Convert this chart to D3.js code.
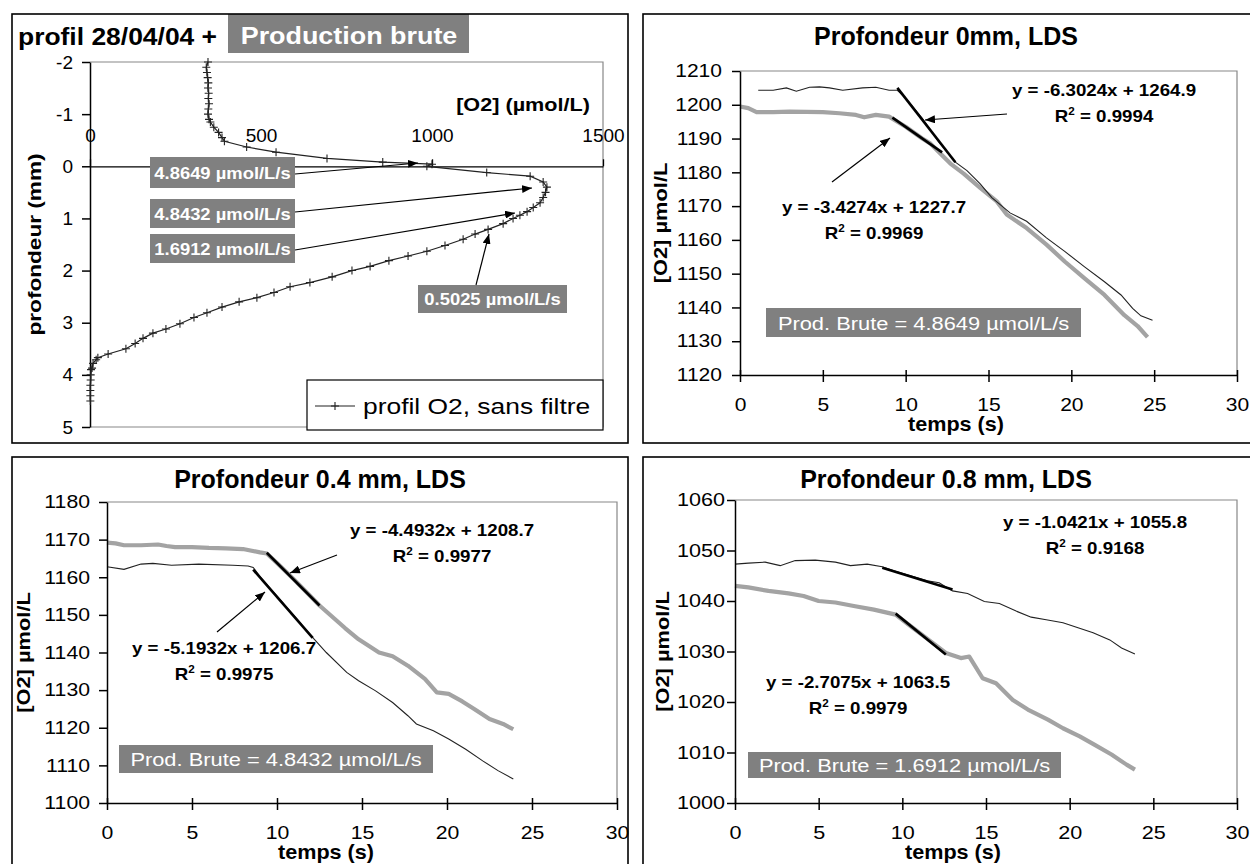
<!DOCTYPE html>
<html>
<head>
<meta charset="utf-8">
<script src="https://cdn.jsdelivr.net/npm/d3@7"></script>
<style>
  body { margin: 0; background: #fff; }
  svg { display: block; }
</style>
</head>
<body>
<div id="viz"></div>
<script>
// ---------- data ----------

// O2 profile (depth in mm, O2 in umol/L)
var profDepth = [-2.0,-1.9,-1.8,-1.7,-1.6,-1.5,-1.4,-1.3,-1.2,-1.1,-1.0,-0.9,-0.85,-0.75,-0.65,-0.55,-0.48,
  -0.37,-0.27,-0.15,-0.08,-0.04,0.0,0.12,0.19,0.3,0.4,0.5,0.6,0.7,0.79,0.87,0.94,1.0,
  1.1,1.21,1.3,1.4,1.52,1.63,1.72,1.81,1.92,2.0,2.12,2.23,2.31,2.42,2.52,2.6,2.7,2.81,2.9,3.02,
  3.12,3.2,3.3,3.4,3.5,3.6,3.67,3.71,3.78,3.87,3.9,4.0,4.1,4.2,4.3,4.4,4.5];
var profO2 = [345,340,342,344,346,345,347,346,348,346,345,348,352,362,376,386,393,
  458,544,693,856,1000,985,1160,1287,1325,1336,1332,1325,1316,1296,1278,1257,1237,
  1208,1164,1126,1091,1038,985,930,874,819,766,708,643,585,538,488,436,386,342,304,263,
  222,184,155,132,105,53,23,18,9,6,3,2,2,1,1,1,1];
var profTicksY = [-2,-1,0,1,2,3,4,5];
var profTicksX = [0,500,1000,1500];
var profRates = ["4.8649 µmol/L/s","4.8432 µmol/L/s","1.6912 µmol/L/s","0.5025 µmol/L/s"];

// time axis ticks (s)
var timeTicks = [0,5,10,15,20,25,30];

// depth 0 mm
var t0Black = [1.1,2.0,2.8,3.4,4.2,4.8,5.4,6.2,7.4,8.2,9.0,9.5,10.0,11.0,11.5,12.0,13.0,13.7,14.5,15.2,16.3,17.3,18.5,19.6,20.8,22.0,23.0,23.7,24.2,24.9];
var o0Black = [1204.3,1204.3,1205.0,1204.0,1205.2,1205.3,1205.0,1204.3,1205.0,1205.2,1204.3,1204.3,1202.0,1196.0,1192.5,1189.0,1183.0,1180.5,1176.6,1172.5,1168.0,1165.5,1160.6,1156.6,1152.0,1147.6,1143.7,1139.7,1137.5,1136.2];
var t0Gray = [0,0.5,1,2,3,4,5,6,7,7.5,8.2,9,9.5,10,11,11.5,12,12.7,13.5,14.5,15.5,16.1,17.3,18.5,19.6,20.8,22,23.2,24,24.6];
var o0Gray = [1199.5,1199,1197.8,1197.8,1198,1197.9,1197.8,1197.5,1197,1196.3,1197,1196.5,1195,1193.5,1190,1188.5,1186,1182.6,1179.6,1175.4,1171.4,1167.5,1163.5,1158.6,1153.6,1148.6,1143.7,1137.7,1134.5,1131.2];
var trend0Black = [[9.5,1205.0],[13.0,1183.0]];
var trend0Gray = [[9.2,1196.2],[12.2,1185.9]];
var ticks0 = [1120,1130,1140,1150,1160,1170,1180,1190,1200,1210];

// depth 0.4 mm
var t4Black = [0,1,2,2.7,3.8,5.4,7.4,8.3,8.6,9,10,11,12,12.9,14.1,14.8,15.8,16.8,17.7,18.2,19.2,20.1,21.1,22.1,23,23.9];
var o4Black = [1162.8,1162.1,1163.5,1163.7,1163.2,1163.5,1163.2,1163,1162.6,1160.2,1155,1149.8,1144.5,1140,1134.7,1132.5,1129.8,1126.7,1123.2,1121,1119.2,1117,1114.3,1111.2,1108.6,1106.4];
var t4Gray = [0,0.5,1,2,3,3.5,4,5,6,7,8,9,9.4,10,11,12,12.5,13,14,14.8,16,16.8,17.7,18.7,19.4,20.1,20.9,21.6,22.5,23.3,23.9];
var o4Gray = [1169.2,1169,1168.5,1168.5,1168.7,1168.3,1168,1168,1167.8,1167.7,1167.5,1166.6,1166.3,1163.8,1159.4,1154.8,1152.5,1150.5,1146.5,1143.5,1140,1139,1136.5,1133,1129.4,1129,1127,1125,1122.3,1121,1119.6];
var trend4Black = [[8.6,1162.0],[12.1,1143.9]];
var trend4Gray = [[9.4,1166.5],[12.5,1152.5]];
var ticks4 = [1100,1110,1120,1130,1140,1150,1160,1170,1180];

// depth 0.8 mm
var t8Black = [0,0.8,1.8,2.7,3.6,4.8,6,6.9,7.9,8.8,9.5,10.5,11.5,12.2,13,13.9,14.9,15.8,16.8,17.7,18.6,19.6,20.5,21.4,22.4,23.1,23.9];
var o8Black = [1047.3,1047.5,1047.7,1047,1048,1048.1,1047.7,1047,1047.3,1046.8,1046,1045,1044,1043.6,1042,1041.5,1039.9,1039.5,1038,1036.8,1036.3,1035.7,1034.7,1033.7,1032.3,1030.7,1029.5];
var t8Gray = [0,0.8,2,3.2,4.1,5,6,7.1,8.3,9.6,10.5,11.5,12.6,13.5,14,14.8,15.6,16.6,17.5,18.7,19.6,20.6,21.5,22.5,23.4,23.9];
var o8Gray = [1043,1042.7,1042,1041.5,1041,1040,1039.7,1039,1038.3,1037.3,1035,1032.5,1029.7,1028.7,1029,1024.7,1023.7,1020.4,1018.5,1016.5,1014.8,1013.2,1011.5,1009.6,1007.6,1006.6];
var trend8Black = [[8.8,1046.6],[13.0,1042.3]];
var trend8Gray = [[9.6,1037.5],[12.6,1029.4]];
var ticks8 = [1000,1010,1020,1030,1040,1050,1060];

// ---------- drawing ----------
var FONT = "'Liberation Sans', Arial, Helvetica, sans-serif";
var plain = function(d) { return String(d); };

var svg = d3.select("#viz").append("svg")
    .attr("width", 1250)
    .attr("height", 864)
    .attr("font-family", FONT);

svg.append("defs").append("marker")
    .attr("id", "arr")
    .attr("viewBox", "0 0 10 8")
    .attr("refX", 10).attr("refY", 4)
    .attr("markerWidth", 10).attr("markerHeight", 8)
    .attr("markerUnits", "userSpaceOnUse")
    .attr("orient", "auto")
  .append("path").attr("d", "M0,0L10,4L0,8Z").attr("fill", "#000");

// text helper, sx stretches the glyphs along the text direction
function txt(g, x, y, s, o) {
  o = o || {};
  var tr = "translate(" + x + "," + y + ")" + (o.rot ? " rotate(" + o.rot + ")" : "") + " scale(" + (o.sx || 1) + ",1)";
  return g.append("text")
    .attr("transform", tr)
    .attr("text-anchor", o.anchor || "middle")
    .attr("font-size", o.size || 18)
    .attr("font-weight", o.bold ? "bold" : "normal")
    .attr("fill", o.fill || "#000")
    .text(s);
}

function frame(x, y, w, h) {
  svg.append("rect").attr("x", x).attr("y", y).attr("width", w).attr("height", h)
    .attr("fill", "none").attr("stroke", "#000").attr("stroke-width", 1.6);
}

function arrow(g, x1, y1, x2, y2) {
  g.append("line").attr("x1", x1).attr("y1", y1).attr("x2", x2).attr("y2", y2)
    .attr("stroke", "#000").attr("stroke-width", 1.2).attr("marker-end", "url(#arr)");
}

function grayBox(g, x, y, w, h) {
  g.append("rect").attr("x", x).attr("y", y).attr("width", w).attr("height", h).attr("fill", "#808080");
}

// equation + R2 label
function eqLabel(g, x, y, eq, r2, sx) {
  txt(g, x, y, eq, {size: 16, bold: true, sx: sx});
  var t = txt(g, x, y + 26, "", {size: 16, bold: true, sx: sx});
  t.append("tspan").text("R");
  t.append("tspan").attr("dy", -7).attr("font-size", 10).text("2");
  t.append("tspan").attr("dy", 7).text(" = " + r2);
}

// ---- panel 1 : profile ----
(function() {
  var g = svg.append("g");
  frame(12, 14, 616, 429);

  var x = d3.scaleLinear().domain([0, 1500]).range([90, 603]);
  var y = d3.scaleLinear().domain([-2, 5]).range([62, 427]);

  g.append("path").attr("d", "M90,62H603V427H90")
    .attr("fill", "none").attr("stroke", "#888").attr("stroke-width", 1.2);

  // titles
  txt(g, 18, 45, "profil 28/04/04 +", {anchor: "start", size: 23, bold: true, sx: 1.15});
  grayBox(g, 228, 14, 241, 39);
  txt(g, 349, 44, "Production brute", {size: 23, bold: true, sx: 1.17, fill: "#fff"});

  // y axis
  var gy = g.append("g").attr("transform", "translate(90,0)")
    .call(d3.axisLeft(y).tickValues(profTicksY).tickFormat(plain).tickSize(8).tickSizeOuter(0).tickPadding(9));
  gy.attr("font-family", FONT);
  gy.selectAll("text").attr("font-size", 19).attr("fill", "#000");
  gy.selectAll("line, path").attr("stroke", "#000").attr("stroke-width", 1.5);

  // x axis at depth 0, labels above
  var gx = g.append("g").attr("transform", "translate(0," + y(0) + ")")
    .call(d3.axisTop(x).tickValues(profTicksX).tickFormat(plain).tickSize(7).tickSizeOuter(0).tickPadding(17));
  gx.attr("font-family", FONT);
  gx.selectAll("text").attr("font-size", 19).attr("fill", "#000");
  gx.selectAll("line, path").attr("stroke", "#000").attr("stroke-width", 1.3);

  txt(g, 590, 111, "[O2] (µmol/L)", {anchor: "end", size: 18.5, bold: true, sx: 1.17});
  txt(g, 41, (62 + 427) / 2, "profondeur (mm)", {rot: -90, size: 19, bold: true, sx: 1.19});

  // profile line + markers
  var pts = d3.zip(profO2, profDepth);
  var line = d3.line().x(function(d) { return x(d[0]); }).y(function(d) { return y(d[1]); });
  g.append("path").datum(pts).attr("d", line)
    .attr("fill", "none").attr("stroke", "#222").attr("stroke-width", 1.2);
  g.selectAll(".pm").data(pts).enter().append("path")
    .attr("class", "pm")
    .attr("transform", function(d) { return "translate(" + x(d[0]) + "," + y(d[1]) + ")"; })
    .attr("d", "M-4,0H4M0,-4V4")
    .attr("stroke", "#222").attr("stroke-width", 1.1);

  // rate labels
  var boxes = [[150, 157, 145, 31], [150, 199, 145, 29], [150, 234, 145, 29], [418, 285, 149, 28]];
  var arrows = [[295, 174, 418, 163], [295, 212, 532, 188], [295, 250, 515, 213], [476, 285, 489, 234]];
  boxes.forEach(function(b, i) {
    grayBox(g, b[0], b[1], b[2], b[3]);
    txt(g, b[0] + b[2] / 2, b[1] + b[3] / 2 + 6, profRates[i], {size: 16, bold: true, sx: 1.15, fill: "#fff"});
    arrow(g, arrows[i][0], arrows[i][1], arrows[i][2], arrows[i][3]);
  });

  // legend
  g.append("rect").attr("x", 307).attr("y", 380).attr("width", 296).attr("height", 50)
    .attr("fill", "#fff").attr("stroke", "#000").attr("stroke-width", 1.2);
  g.append("line").attr("x1", 315).attr("x2", 355).attr("y1", 406).attr("y2", 406)
    .attr("stroke", "#222").attr("stroke-width", 1.2);
  g.append("path").attr("transform", "translate(335,406)").attr("d", "M-4,0H4M0,-4V4")
    .attr("stroke", "#222").attr("stroke-width", 1.1);
  txt(g, 363, 414, "profil O2, sans filtre", {anchor: "start", size: 22, sx: 1.2});
})();

// ---- time panels ----
function timePanel(c) {
  var g = svg.append("g");
  frame(c.fx, c.fy, c.fw, c.fh);

  var x = d3.scaleLinear().domain([0, 30]).range([c.l, c.r]);
  var y = d3.scaleLinear().domain([c.yTicks[0], c.yTicks[c.yTicks.length - 1]]).range([c.b, c.t]);

  g.append("path").attr("d", "M" + c.l + "," + c.t + "H" + c.r + "V" + c.b)
    .attr("fill", "none").attr("stroke", "#888").attr("stroke-width", 1.2);

  txt(g, c.fx + (c.titleX || 303), c.fy + 31, c.title, {size: 25, bold: true});

  var line = d3.line().x(function(d) { return x(d[0]); }).y(function(d) { return y(d[1]); });

  g.append("path").datum(d3.zip(c.tGray, c.oGray)).attr("d", line)
    .attr("fill", "none").attr("stroke", "#a3a3a3").attr("stroke-width", 4.2)
    .attr("stroke-linejoin", "round");
  g.append("path").datum(d3.zip(c.tBlack, c.oBlack)).attr("d", line)
    .attr("fill", "none").attr("stroke", "#222").attr("stroke-width", 1.1);
  [c.trGray, c.trBlack].forEach(function(tr) {
    g.append("path").datum(tr).attr("d", line)
      .attr("fill", "none").attr("stroke", "#000").attr("stroke-width", 2.6);
  });

  // axes
  var gy = g.append("g").attr("transform", "translate(" + c.l + ",0)")
    .call(d3.axisLeft(y).tickValues(c.yTicks).tickFormat(plain).tickSize(8).tickSizeOuter(0));
  gy.attr("font-family", FONT);
  gy.selectAll("text").attr("font-size", 18).attr("fill", "#000")
    .attr("x", -c.lblGap / c.sx).attr("transform", "scale(" + c.sx + ",1)");
  gy.selectAll("line, path").attr("stroke", "#000").attr("stroke-width", 1.5);

  var gx = g.append("g").attr("transform", "translate(0," + c.b + ")")
    .call(d3.axisBottom(x).tickValues(timeTicks).tickFormat(plain).tickSize(7).tickSizeOuter(0));
  gx.attr("font-family", FONT);
  gx.selectAll("line").attr("y1", -5);
  gx.selectAll("text").attr("font-size", 18).attr("fill", "#000")
    .attr("y", 36).attr("dy", 0).attr("transform", "scale(" + c.sx + ",1)");
  gx.selectAll("line, path").attr("stroke", "#000").attr("stroke-width", 1.5);

  txt(g, c.xTitleX, c.b + 56, "temps (s)", {size: 20, bold: true, sx: 1.08});
  txt(g, c.yTitleX, (c.t + c.b) / 2, "[O2] µmol/L", {rot: -90, size: 19, bold: true, sx: 1.15});

  // annotations
  c.eqs.forEach(function(e) {
    eqLabel(g, e.x, e.y, e.eq, e.r2, 1.17);
    if (e.arrow) arrow(g, e.arrow[0], e.arrow[1], e.arrow[2], e.arrow[3]);
  });
  grayBox(g, c.box[0], c.box[1], c.box[2], c.box[3]);
  txt(g, c.box[0] + c.box[2] / 2, c.box[1] + c.box[3] / 2 + 7, c.boxText, {size: 19, sx: 1.15, fill: "#fff"});
}

timePanel({
  fx: 643, fy: 14, fw: 620, fh: 429,
  l: 740, r: 1237, t: 71, b: 375, sx: 1.17, lblGap: 18,
  title: "Profondeur 0mm, LDS",
  yTicks: ticks0,
  tBlack: t0Black, oBlack: o0Black, tGray: t0Gray, oGray: o0Gray,
  trBlack: trend0Black, trGray: trend0Gray,
  xTitleX: 956, yTitleX: 667,
  eqs: [
    {x: 1104, y: 96, eq: "y = -6.3024x + 1264.9", r2: "0.9994", arrow: [1007, 114, 925, 120]},
    {x: 874, y: 213, eq: "y = -3.4274x + 1227.7", r2: "0.9969", arrow: [832, 182, 890, 138]}
  ],
  box: [766, 308, 315, 29], boxText: "Prod. Brute = 4.8649 µmol/L/s"
});

timePanel({
  fx: 12, fy: 457, fw: 616, fh: 420, titleX: 308,
  l: 107, r: 617, t: 502, b: 803, sx: 1.18, lblGap: 17,
  title: "Profondeur 0.4 mm, LDS",
  yTicks: ticks4,
  tBlack: t4Black, oBlack: o4Black, tGray: t4Gray, oGray: o4Gray,
  trBlack: trend4Black, trGray: trend4Gray,
  xTitleX: 326, yTitleX: 30,
  eqs: [
    {x: 442, y: 536, eq: "y = -4.4932x + 1208.7", r2: "0.9977", arrow: [337, 555, 290, 573]},
    {x: 224, y: 654, eq: "y = -5.1932x + 1206.7", r2: "0.9975", arrow: [217, 632, 265, 592]}
  ],
  box: [119, 745, 314, 28], boxText: "Prod. Brute = 4.8432 µmol/L/s"
});

timePanel({
  fx: 643, fy: 457, fw: 620, fh: 420,
  l: 735, r: 1237, t: 500, b: 803, sx: 1.2, lblGap: 10,
  title: "Profondeur 0.8 mm, LDS",
  yTicks: ticks8,
  tBlack: t8Black, oBlack: o8Black, tGray: t8Gray, oGray: o8Gray,
  trBlack: trend8Black, trGray: trend8Gray,
  xTitleX: 953, yTitleX: 669,
  eqs: [
    {x: 1095, y: 528, eq: "y = -1.0421x + 1055.8", r2: "0.9168"},
    {x: 858, y: 688, eq: "y = -2.7075x + 1063.5", r2: "0.9979"}
  ],
  box: [748, 752, 313, 26], boxText: "Prod. Brute = 1.6912 µmol/L/s"
});
</script>
</body>
</html>
